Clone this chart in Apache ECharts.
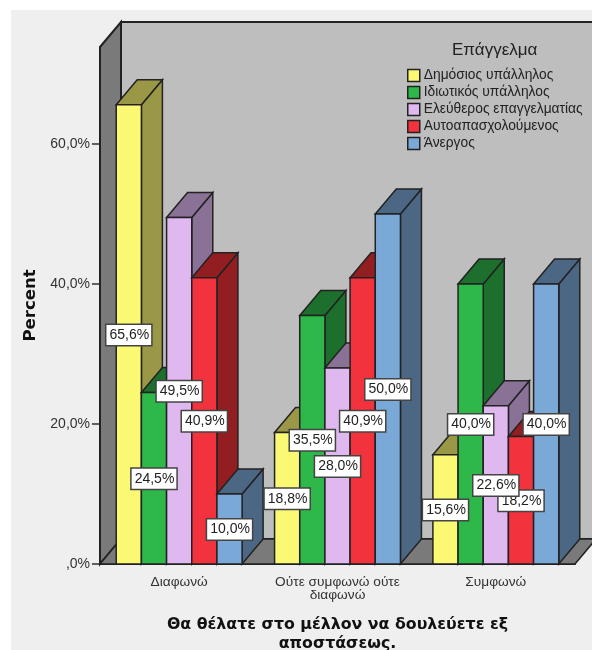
<!DOCTYPE html>
<html>
<head>
<meta charset="utf-8">
<style>html,body{margin:0;padding:0;background:#fff}#chart{width:592px;height:650px}</style>
<script src="https://cdn.jsdelivr.net/npm/echarts@6/dist/echarts.min.js"></script>
</head>
<body>
<div id="chart"></div>
<script>
const categories = ['Διαφωνώ', 'Ούτε συμφωνώ ούτε\nδιαφωνώ', 'Συμφωνώ'];
const occupations = ['Δημόσιος υπάλληλος', 'Ιδιωτικός υπάλληλος', 'Ελεύθερος επαγγελματίας', 'Αυτοαπασχολούμενος', 'Άνεργος'];
const publicEmployee = [65.6, 18.8, 15.6];
const privateEmployee = [24.5, 35.5, 40.0];
const freelancer = [49.5, 28.0, 22.6];
const selfEmployed = [40.9, 40.9, 18.2];
const unemployed = [10.0, 50.0, 40.0];
const frontColors = ['#FBF873', '#2EB84A', '#DFB8F0', '#F2323C', '#7AA9D8'];
const shadeColors = ['#9A9846', '#1C6F2C', '#8A7296', '#921E22', '#4B6784'];
const seriesValues = [publicEmployee, privateEmployee, freelancer, selfEmployed, unemployed];

const DEPTH_X = 21, DEPTH_Y = -25, BAR_SHARE = 0.159;
const EDGE = '#222222';
const formatPct = v => (v === 0 ? ',0' : v.toFixed(1).replace('.', ',')) + '%';

function face(points, fill, lineWidth) {
  return { type: 'polygon', shape: { points }, style: { fill, stroke: EDGE, lineWidth: lineWidth || 1.5 } };
}

// Back wall, side wall and floor of the box around the plot area
function renderWalls(params) {
  const c = params.coordSys;
  const l = c.x, r = c.x + c.width, t = c.y, b = c.y + c.height;
  const dx = DEPTH_X, dy = DEPTH_Y;
  return { type: 'group', children: [
    face([[l + dx, t + dy], [r + dx, t + dy], [r + dx, b + dy], [l + dx, b + dy]], '#BEBEBE', 2),
    face([[l, t], [l + dx, t + dy], [l + dx, b + dy], [l, b]], '#7A7A7A', 2),
    face([[l, b], [l + dx, b + dy], [r + dx, b + dy], [r, b]], '#7A7A7A', 1.5)
  ] };
}

// One extruded bar: side and top in the shaded colour, front in the full colour
function renderBar(seriesIdx) {
  return function (params, api) {
    const cat = api.value(0), val = api.value(1);
    const top = api.coord([cat, val]), base = api.coord([cat, 0]);
    const w = api.size([1, 0])[0] * BAR_SHARE;
    const x0 = top[0] + (seriesIdx - 2.5) * w, x1 = x0 + w;
    const y0 = top[1], y1 = base[1];
    const dx = DEPTH_X, dy = DEPTH_Y;
    return { type: 'group', children: [
      face([[x1, y0], [x1 + dx, y0 + dy], [x1 + dx, y1 + dy], [x1, y1]], shadeColors[seriesIdx]),
      face([[x0, y0], [x0 + dx, y0 + dy], [x1 + dx, y0 + dy], [x1, y0]], shadeColors[seriesIdx]),
      face([[x0, y0], [x1, y0], [x1, y1], [x0, y1]], frontColors[seriesIdx])
    ] };
  };
}

// Boxed value label centred on the bar's front face
function renderLabel(seriesIdx) {
  return function (params, api) {
    const cat = api.value(0), val = api.value(1);
    const top = api.coord([cat, val]), base = api.coord([cat, 0]);
    const w = api.size([1, 0])[0] * BAR_SHARE;
    return {
      type: 'text',
      style: {
        x: top[0] + (seriesIdx - 2) * w,
        y: (top[1] + base[1]) / 2 + 0.5,
        text: formatPct(val),
        align: 'center', verticalAlign: 'middle',
        font: '14px "Liberation Sans", Arial, sans-serif',
        fill: '#222222',
        backgroundColor: '#FFFFFF',
        borderColor: '#444444', borderWidth: 1.5,
        padding: [3, 2, 3, 3]
      }
    };
  };
}

const series = [{
  type: 'custom', name: 'walls', silent: true, z: 1,
  data: [[0, 0]], encode: { x: 0, y: 1 }, renderItem: renderWalls
}];
seriesValues.forEach((values, i) => {
  series.push({
    type: 'custom', name: occupations[i], z: 3 + i, clip: false,
    itemStyle: { color: frontColors[i] },
    data: values.map((v, j) => [j, v]), encode: { x: 0, y: 1 },
    renderItem: renderBar(i)
  });
});
seriesValues.forEach((values, i) => {
  series.push({
    type: 'custom', name: 'value-' + i, z: 20 - i, clip: false, silent: true,
    data: values.map((v, j) => [j, v]), encode: { x: 0, y: 1 },
    renderItem: renderLabel(i)
  });
});

const chart = echarts.init(document.getElementById('chart'), null, { renderer: 'canvas' });
chart.setOption({
  animation: false,
  backgroundColor: '#FFFFFF',
  textStyle: { fontFamily: '"Liberation Sans", Arial, sans-serif' },
  graphic: [{
    type: 'rect', z: -1, silent: true,
    shape: { x: 11, y: 10, width: 581, height: 640 },
    style: { fill: '#EFEFEF' }
  }],
  title: {
    text: 'Επάγγελμα', left: 452, top: 42, padding: 0,
    textStyle: { fontSize: 17, fontWeight: 'normal', color: '#222222' }
  },
  legend: {
    data: occupations, orient: 'vertical', left: 407, top: 68,
    itemWidth: 12, itemHeight: 12, itemGap: 2, icon: 'rect', padding: 0,
    selectedMode: false,
    itemStyle: { borderColor: '#222222', borderWidth: 1.5 },
    textStyle: { fontSize: 13.8, lineHeight: 14, color: '#222222', padding: [1, 0, 0, -1] }
  },
  grid: { left: 100, top: 47, width: 475, height: 517, outerBoundsMode: 'none' },
  xAxis: {
    type: 'category', data: categories,
    name: 'Θα θέλατε στο μέλλον να δουλεύετε εξ\nαποστάσεως.',
    nameLocation: 'middle', nameGap: 51,
    nameTextStyle: { fontFamily: '"DejaVu Sans"', fontWeight: 'bold', fontSize: 15.8, lineHeight: 19, color: '#111111' },
    axisLine: { lineStyle: { color: '#222222', width: 2 } },
    axisTick: { alignWithLabel: true, length: 8, lineStyle: { color: '#333333', width: 1.5 } },
    axisLabel: { fontSize: 13.7, color: '#333333', margin: 12, lineHeight: 13, interval: 0 },
    splitLine: { show: false }
  },
  yAxis: {
    type: 'value', min: 0, max: 517 / 7, interval: 20,
    name: 'Percent', nameLocation: 'middle', nameGap: 61, nameRotate: 90,
    nameTextStyle: { fontFamily: '"DejaVu Sans"', fontWeight: 'bold', fontSize: 16.5, color: '#111111' },
    axisLine: { show: true, lineStyle: { color: '#222222', width: 2 } },
    axisTick: { show: true, length: 8, lineStyle: { color: '#333333', width: 1.5 } },
    axisLabel: { fontSize: 14, color: '#333333', margin: 10, formatter: formatPct, showMaxLabel: false },
    splitLine: { show: false }
  },
  series
});
</script>
</body>
</html>
